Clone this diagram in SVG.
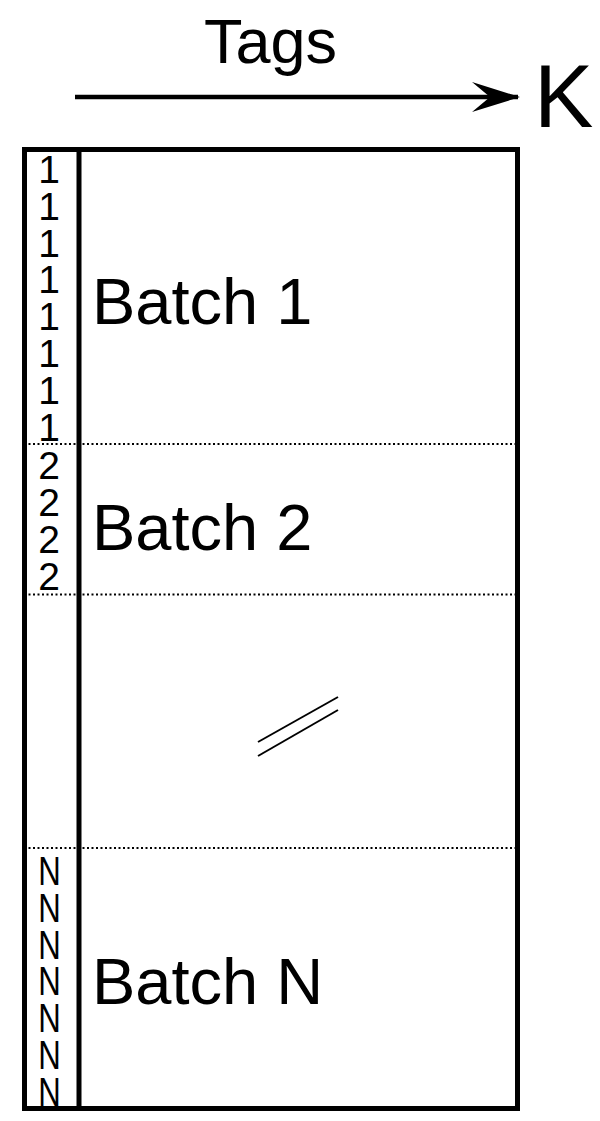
<svg xmlns="http://www.w3.org/2000/svg" width="600" height="1121" viewBox="0 0 600 1121">
  <style>
    text { font-family: "Liberation Sans", Arial, sans-serif; fill: #000; }
    .big { font-size: 65px; }
    .tag { font-size: 39px; text-anchor: middle; }
    .frame { fill: none; stroke: #000; stroke-width: 5; }
    .dot { stroke: #000; stroke-width: 2; stroke-dasharray: 2 2.5; fill: none; }
    .thin { stroke: #000; stroke-width: 2; fill: none; }
  </style>
  <defs>
    <marker id="ah" viewBox="0 0 48 30" refX="46" refY="15" markerWidth="48" markerHeight="30" markerUnits="userSpaceOnUse" orient="auto">
      <path d="M0,0 L48,15 L0,30 L18,15 Z" fill="#000"/>
    </marker>
  </defs>
  <rect width="600" height="1121" fill="#fff"/>

  <g id="header">
    <text x="204" y="63" style="font-size:63px">Tags</text>
    <text x="534" y="127" style="font-size:89px">K</text>
  </g>

  <g id="connectors">
    <line x1="75" y1="97" x2="518" y2="97" stroke="#000" stroke-width="4.5" marker-end="url(#ah)"/>
  </g>

  <g id="matrix">
    <rect class="frame" x="24.5" y="149.5" width="493" height="959"/>
    <line class="frame" x1="79" y1="149.5" x2="79" y2="1108.5"/>
    <line class="dot" x1="24" y1="444" x2="518" y2="444"/>
    <line class="dot" x1="24" y1="594.5" x2="518" y2="594.5"/>
    <line class="dot" x1="24" y1="848" x2="518" y2="848"/>
  </g>

  <g id="batch1">
    <text class="tag" x="49" y="183">1</text>
    <text class="tag" x="49" y="219.8">1</text>
    <text class="tag" x="49" y="256.6">1</text>
    <text class="tag" x="49" y="293.4">1</text>
    <text class="tag" x="49" y="330.2">1</text>
    <text class="tag" x="49" y="367">1</text>
    <text class="tag" x="49" y="403.8">1</text>
    <text class="tag" x="49" y="440.6">1</text>
    <text class="big" x="92" y="324">Batch 1</text>
  </g>

  <g id="batch2">
    <text class="tag" x="49" y="479">2</text>
    <text class="tag" x="49" y="516">2</text>
    <text class="tag" x="49" y="553">2</text>
    <text class="tag" x="49" y="590">2</text>
    <text class="big" x="92" y="550">Batch 2</text>
  </g>

  <g id="ellipsis">
    <line class="thin" x1="258" y1="742" x2="338" y2="697"/>
    <line class="thin" x1="258" y1="756" x2="338" y2="710"/>
  </g>

  <g id="batchN">
    <g transform="translate(49.5,0) scale(0.76,1)">
      <text class="tag" x="0" y="885" style="font-size:41px">N</text>
      <text class="tag" x="0" y="921.8" style="font-size:41px">N</text>
      <text class="tag" x="0" y="958.6" style="font-size:41px">N</text>
      <text class="tag" x="0" y="995.4" style="font-size:41px">N</text>
      <text class="tag" x="0" y="1032.2" style="font-size:41px">N</text>
      <text class="tag" x="0" y="1069" style="font-size:41px">N</text>
      <text class="tag" x="0" y="1105.8" style="font-size:41px">N</text>
    </g>
    <text class="big" x="92" y="1004">Batch N</text>
  </g>
</svg>
